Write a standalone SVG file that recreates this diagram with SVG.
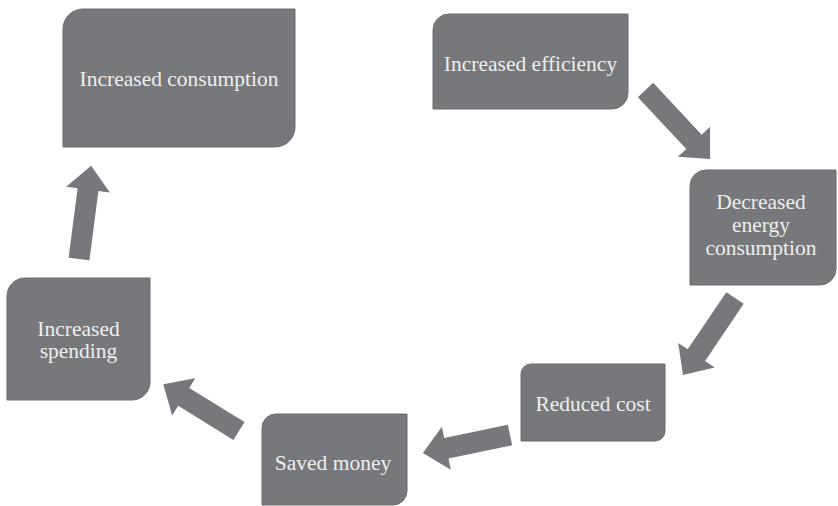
<svg xmlns="http://www.w3.org/2000/svg" width="838" height="506" viewBox="0 0 838 506">
<style>
.box{fill:#77787b;stroke:#6c6d70;stroke-width:1}
.lbl{font-family:"Liberation Serif","Times New Roman",serif;font-size:21.5px;fill:#eeeeee;text-anchor:middle}
.arr{fill:#77787b}
</style>
<rect width="838" height="506" fill="#ffffff"/>
<g id="connectors">
<polygon class="arr" transform="translate(79,259) rotate(-82.6)" points="0,-10.5 70,-10.5 70,-22 94,0 70,22 70,10.5 0,10.5"/>
<polygon class="arr" transform="translate(645.5,90) rotate(46.9)" points="0,-10.5 71,-10.5 71,-22 94.5,0 71,22 71,10.5 0,10.5"/>
<polygon class="arr" transform="translate(735,298) rotate(124)" points="0,-10.5 69,-10.5 69,-22 93,0 69,22 69,10.5 0,10.5"/>
<polygon class="arr" transform="translate(510,435) rotate(168.3)" points="0,-10.5 65,-10.5 65,-22 89,0 65,22 65,10.5 0,10.5"/>
<polygon class="arr" transform="translate(239,431) rotate(-148.3)" points="0,-10.5 65,-10.5 65,-22 89,0 65,22 65,10.5 0,10.5"/>
</g>
<g id="node-increased-consumption">
<path class="box" d="M83 9 H295 V127 A20 20 0 0 1 275 147 H63 V29 A20 20 0 0 1 83 9 Z"/>
<text class="lbl" x="179" y="86">Increased consumption</text>
</g>
<g id="node-increased-efficiency">
<path class="box" d="M449 14 H628 V93 A16 16 0 0 1 612 109 H433 V30 A16 16 0 0 1 449 14 Z"/>
<text class="lbl" x="530.5" y="71">Increased efficiency</text>
</g>
<g id="node-decreased-energy">
<path class="box" d="M706 170 H836 V269 A16 16 0 0 1 820 285 H690 V186 A16 16 0 0 1 706 170 Z"/>
<text class="lbl" x="761" y="209">Decreased</text>
<text class="lbl" x="761" y="232">energy</text>
<text class="lbl" x="761" y="255">consumption</text>
</g>
<g id="node-reduced-cost">
<path class="box" d="M531 364 H665 V431 A10 10 0 0 1 655 441 H521 V374 A10 10 0 0 1 531 364 Z"/>
<text class="lbl" x="593" y="411">Reduced cost</text>
</g>
<g id="node-saved-money">
<path class="box" d="M276 414 H407 V491 A14 14 0 0 1 393 505 H262 V428 A14 14 0 0 1 276 414 Z"/>
<text class="lbl" x="333" y="470">Saved money</text>
</g>
<g id="node-increased-spending">
<path class="box" d="M25 278 H150 V382 A18 18 0 0 1 132 400 H7 V296 A18 18 0 0 1 25 278 Z"/>
<text class="lbl" x="78.5" y="336">Increased</text>
<text class="lbl" x="78.5" y="358">spending</text>
</g>
</svg>
